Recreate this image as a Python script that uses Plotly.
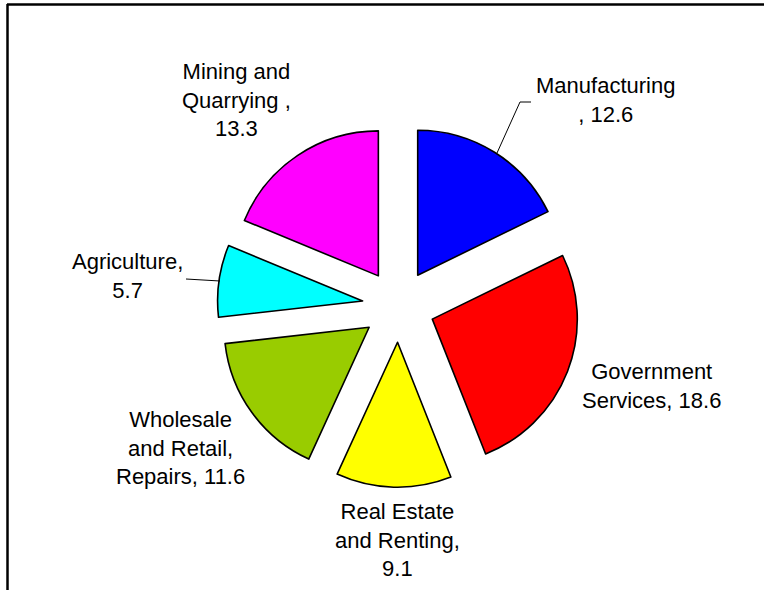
import plotly.graph_objects as go

W, H = 764, 590

# ---- data ----
labels = ["Manufacturing", "Government Services", "Real Estate and Renting",
          "Wholesale and Retail, Repairs", "Agriculture", "Mining and Quarrying"]
values = [12.6, 18.6, 9.1, 11.6, 5.7, 13.3]
colors = ["#0000FF", "#FF0000", "#FFFF00", "#99CC00", "#00FFFF", "#FF00FF"]
label_texts = ["Manufacturing<br>, 12.6", "Government<br>Services, 18.6",
               "Real Estate<br>and Renting,<br>9.1", "Wholesale<br>and Retail,<br>Repairs, 11.6",
               "Agriculture,<br>5.7", "Mining and<br>Quarrying ,<br>13.3"]

# ---- layout helpers (pixel -> paper) ----
def px(x):
    return x / W

def py(y):
    return 1 - y / H

label_pos = [(605, 100), (651, 386), (397, 540), (180, 448), (127, 276), (237, 100)]

cx, cy, half = 398.5, 306, 181.25

fig = go.Figure(go.Pie(
    labels=labels,
    values=values,
    marker=dict(colors=colors, line=dict(color="black", width=1.6)),
    pull=0.25,
    sort=False,
    direction="clockwise",
    rotation=0,
    textinfo="none",
    hoverinfo="label+value",
    showlegend=False,
    domain=dict(x=[px(cx - half), px(cx + half)], y=[py(cy + half), py(cy - half)]),
))

annotations = []
for txt, (x, y) in zip(label_texts, label_pos):
    annotations.append(dict(
        text=txt, x=px(x), y=py(y), xref="paper", yref="paper",
        xanchor="center", yanchor="middle", showarrow=False, align="center",
        font=dict(family="Liberation Sans, Arial, sans-serif", size=22, color="black"),
    ))

def seg(x0, y0, x1, y1, w=1):
    return dict(type="line", xref="paper", yref="paper",
                x0=px(x0), y0=py(y0), x1=px(x1), y1=py(y1),
                line=dict(color="black", width=w))

shapes = [
    # leader lines
    seg(520, 102, 531, 102),
    seg(520, 102, 497, 153),
    seg(186, 279, 220, 281),
    # frame
    seg(7, 4.5, 764, 4.5, 2.5),
    seg(7.5, 4, 7.5, 590, 2.5),
]

fig.update_layout(
    width=W, height=H,
    margin=dict(l=0, r=0, t=0, b=0),
    paper_bgcolor="white",
    plot_bgcolor="white",
    annotations=annotations,
    shapes=shapes,
)

fig.write_html("out.html")
